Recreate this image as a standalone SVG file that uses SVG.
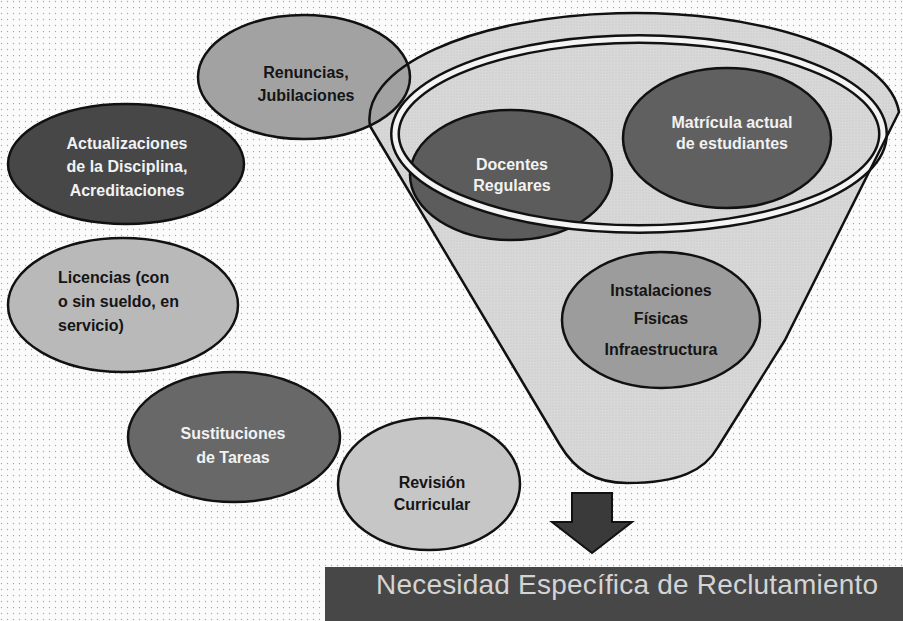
<svg xmlns="http://www.w3.org/2000/svg" width="903" height="621" viewBox="0 0 903 621">
<defs>
<pattern id="dots" width="6" height="6" patternUnits="userSpaceOnUse">
<rect width="6" height="6" fill="#fbfbfb"/>
<circle cx="1.5" cy="1.5" r="0.65" fill="#a8a8a8"/>
</pattern>
<pattern id="tex" width="3" height="3" patternUnits="userSpaceOnUse">
<circle cx="1" cy="1" r="0.6" fill="#000" fill-opacity="0.25"/>
</pattern>
</defs>
<style>
.el{stroke:#111;stroke-width:2.5}
.tl{font-family:"Liberation Sans",Arial,sans-serif;font-weight:bold;font-size:16px;text-anchor:middle}
.st{text-anchor:start}
.dk{fill:#151515}
.lt{fill:#f2f2f2}
.ring{fill:none}
</style>
<rect width="903" height="621" fill="url(#dots)"/>

<g id="funnel">
<path d="M370,126 A265,106 0 0 1 899,112 L785,340 L718,447 C705,470 680,483 627,483 C595,483 575,470 560,445 Z" fill="#d8d8d8"/>
<path d="M370,126 A265,106 0 0 1 899,112 L785,340 L718,447 C705,470 680,483 627,483 C595,483 575,470 560,445 Z" fill="url(#tex)" opacity="0.4"/>
</g>

<g id="renuncias">
<ellipse cx="304" cy="77" rx="106" ry="62" class="el" fill="#a2a2a2"/>
<text class="tl dk" x="306" y="78">Renuncias,</text>
<text class="tl dk" x="306" y="101">Jubilaciones</text>
</g>

<g id="actualizaciones">
<ellipse cx="126" cy="164" rx="118" ry="60" class="el" fill="#474747"/>
<text class="tl lt" x="127" y="149">Actualizaciones</text>
<text class="tl lt" x="127" y="172">de la Disciplina,</text>
<text class="tl lt" x="127" y="196">Acreditaciones</text>
</g>

<g id="licencias">
<ellipse cx="123" cy="305" rx="115" ry="67" class="el" fill="#b9b9b9"/>
<text class="tl dk st" x="58" y="283">Licencias (con</text>
<text class="tl dk st" x="58" y="307">o sin sueldo, en</text>
<text class="tl dk st" x="58" y="331">servicio)</text>
</g>

<g id="sustituciones">
<ellipse cx="234" cy="437" rx="106" ry="65" class="el" fill="#686868"/>
<text class="tl lt" x="233" y="439">Sustituciones</text>
<text class="tl lt" x="233" y="463">de Tareas</text>
</g>

<g id="revision">
<ellipse cx="429" cy="484" rx="91" ry="66" class="el" fill="#c6c6c6"/>
<text class="tl dk" x="432" y="488">Revisión</text>
<text class="tl dk" x="432" y="510">Curricular</text>
</g>

<g id="docentes">
<ellipse cx="511" cy="175" rx="101" ry="65" class="el" fill="#5c5c5c"/>
<text class="tl lt" x="512" y="170">Docentes</text>
<text class="tl lt" x="512" y="191">Regulares</text>
</g>

<g id="matricula">
<ellipse cx="727" cy="138" rx="104" ry="70" class="el" fill="#606060"/>
<text class="tl lt" x="732" y="128">Matrícula actual</text>
<text class="tl lt" x="732" y="149">de estudiantes</text>
</g>

<g id="instalaciones">
<ellipse cx="661" cy="320" rx="99" ry="68" class="el" fill="#9c9c9c"/>
<text class="tl dk" x="661" y="296">Instalaciones</text>
<text class="tl dk" x="661" y="324">Físicas</text>
<text class="tl dk" x="661" y="355">Infraestructura</text>
</g>

<g id="connectors">
<ellipse cx="639" cy="134" rx="244" ry="95" class="ring" stroke="#111" stroke-width="10"/>
<ellipse cx="639" cy="134" rx="244" ry="95" class="ring" stroke="#f4f4f4" stroke-width="5"/>
<path d="M370,126 A265,106 0 0 1 899,112 L785,340 L718,447 C705,470 680,483 627,483 C595,483 575,470 560,445 Z" fill="none" stroke="#111" stroke-width="2.5" stroke-linejoin="round"/>
<path d="M572,493 L612,493 L612,522 L632,522 L592,553 L552,522 L572,522 Z" fill="#3a3a3a" stroke="#111" stroke-width="2"/>
</g>

<g id="necesidad">
<rect x="325" y="567" width="590" height="56" fill="#474747"/>
<text x="376" y="594" font-family="'Liberation Sans',Arial,sans-serif" font-size="28" fill="#d4d4d4" letter-spacing="0.2">Necesidad Específica de Reclutamiento</text>
</g>
</svg>
